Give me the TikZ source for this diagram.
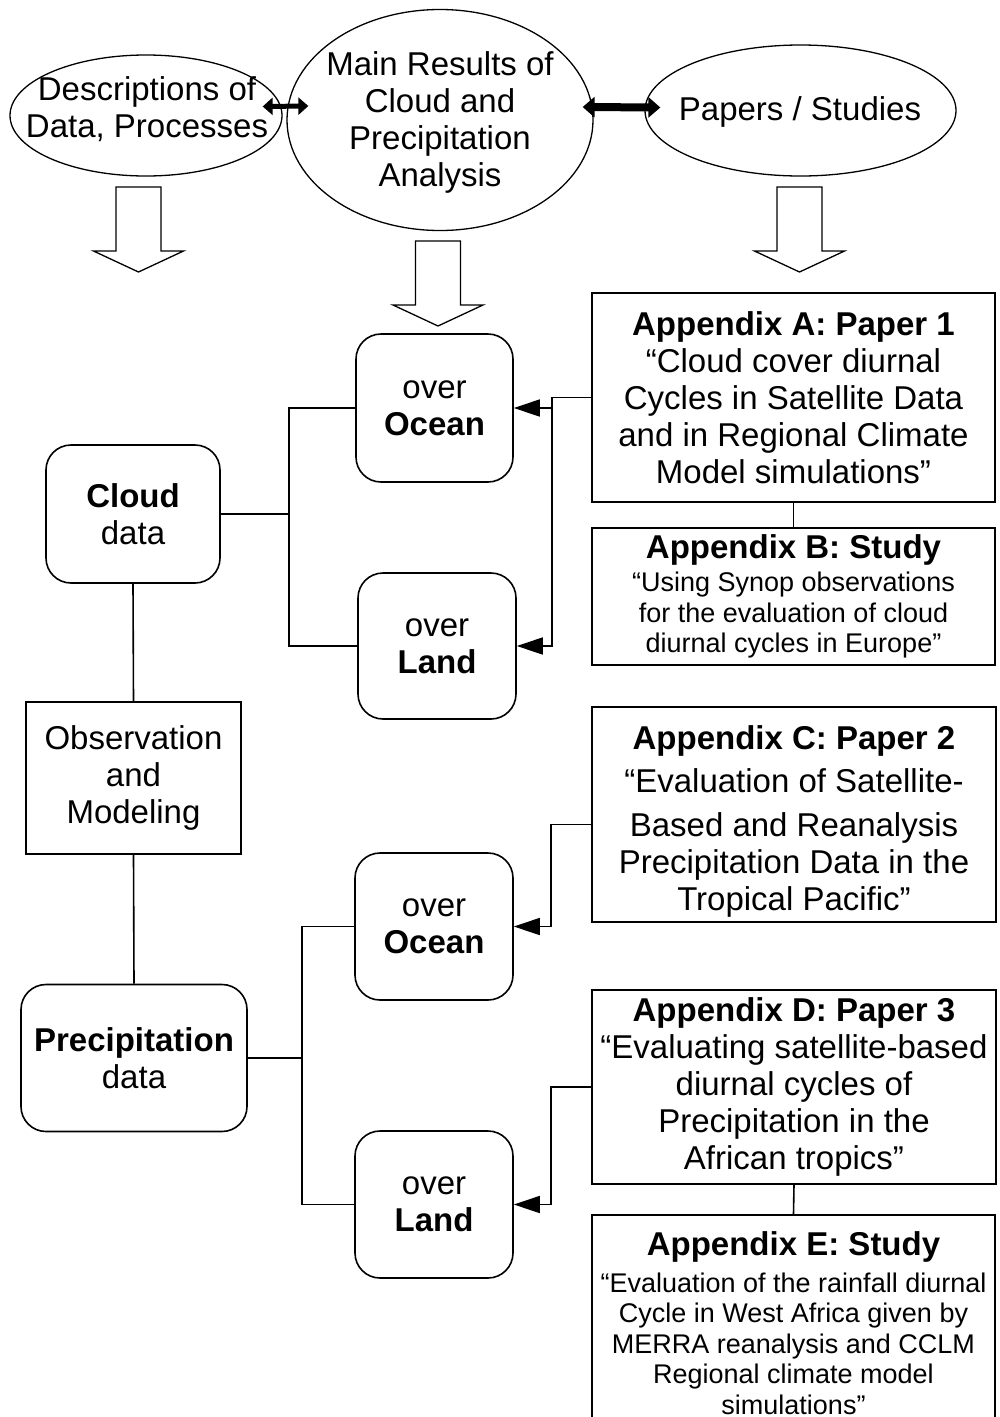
\documentclass[tikz,border=0pt]{standalone}
\usepackage{fontspec}
\setmainfont{Liberation Sans}
\usetikzlibrary{shapes.geometric,arrows.meta}

\newcommand{\bigfont}{\fontsize{33}{37}\selectfont}
\newcommand{\smallfont}{\fontsize{27}{30.5}\selectfont}

\tikzset{
  oval/.style={ellipse, draw, line width=1.3pt, inner sep=0pt},
  roundbox/.style={draw, rounded corners=25pt, line width=1.6pt, font=\bigfont, align=center, inner sep=2pt},
  plainbox/.style={draw, line width=1.6pt, font=\bigfont, align=center, inner sep=2pt},
  link/.style={line width=1.6pt},
  tolink/.style={line width=1.6pt, -{Triangle[length=26pt,width=17pt]}},
  hollow/.style={draw, fill=white, line width=1.3pt, line join=miter},
}

\begin{document}
\begin{tikzpicture}[x=1pt,y=-1pt]
    \useasboundingbox (0,0) rectangle (1000,1417);

    % top row
    \node[oval, minimum width=272pt, minimum height=121pt] (descr) at (146,115.5) {};
    \node[font=\bigfont, align=center] (descrtext) at (147,109) {Descriptions of\\Data, Processes};
    \node[oval, minimum width=306pt, minimum height=221pt] (mainres) at (440,120) {};
    \node[font=\bigfont, align=center] (mainrestext) at (440,122) {Main Results of\\Cloud and\\Precipitation\\Analysis};
    \node[oval, minimum width=311pt, minimum height=131pt] (papers) at (800.5,110.5) {};
    \node[font=\bigfont] (paperstext) at (800,112) {Papers / Studies};

    \draw[line width=5pt, {Triangle[length=10pt,width=17pt]}-{Triangle[length=10pt,width=17pt]}]
        ([shift={(-20pt,9pt)}]descr.east) -- ([shift={(22pt,14pt)}]mainres.west);
    \draw[line width=8pt, {Triangle[length=12pt,width=20pt]}-{Triangle[length=12pt,width=20pt]}]
        ([shift={(-11pt,13pt)}]mainres.east) -- ([shift={(16pt,3pt)}]papers.west);

    \foreach \cx/\ty in {138.5/187, 438/241, 799.5/187}
        \draw[hollow] (\cx-22.5,\ty) -- (\cx+22.5,\ty) -- (\cx+22.5,\ty+64) -- (\cx+45,\ty+64)
            -- (\cx,\ty+85) -- (\cx-45,\ty+64) -- (\cx-22.5,\ty+64) -- cycle;

    % cloud part
    \node[roundbox, minimum width=174pt, minimum height=138pt] (clouddata) at (133,514) {\textbf{Cloud}\\data};
    \node[roundbox, minimum width=157pt, minimum height=148pt] (cocean) at (434.5,408) {over\\\textbf{Ocean}};
    \node[roundbox, minimum width=158pt, minimum height=146pt] (cland) at (437,646) {over\\\textbf{Land}};
    \node[plainbox, minimum width=215pt, minimum height=152pt] (obs) at (133.5,778) {Observation\\and\\Modeling};

    % precipitation part
    \node[roundbox, minimum width=226pt, minimum height=147pt] (precdata) at (134,1058) {\textbf{Precipitation}\\data};
    \node[roundbox, minimum width=158pt, minimum height=147pt] (pocean) at (434,926.5) {over\\\textbf{Ocean}};
    \node[roundbox, minimum width=158pt, minimum height=147pt] (pland) at (434,1204.5) {over\\\textbf{Land}};

    % appendices
    \node[plainbox, minimum width=403pt, minimum height=209pt] (appA) at (793.5,397.5)
        {\textbf{Appendix A: Paper 1}\\“Cloud cover diurnal\\Cycles in Satellite Data\\and in Regional Climate\\Model simulations”};
    \node[plainbox, font=\smallfont, minimum width=403pt, minimum height=137pt] (appB) at (793.5,596.5)
        {\bigfont\bfseries Appendix B: Study\\[3pt]“Using Synop observations\\for the evaluation of cloud\\diurnal cycles in Europe”};
    \node[plainbox, minimum width=404pt, minimum height=215pt] (appC) at (794,814.5)
        {\rule{0pt}{37pt}\textbf{Appendix C: Paper 2}\\[6pt]“Evaluation of Satellite-\\[7pt]Based and Reanalysis\\Precipitation Data in the\\Tropical Pacific”};
    \node[plainbox, minimum width=404pt, minimum height=194pt] (appD) at (794,1087)
        {\textbf{Appendix D: Paper 3}\\“Evaluating satellite-based\\diurnal cycles of\\Precipitation in the\\African tropics”};
    \node[plainbox, font=\smallfont, minimum width=403pt, minimum height=216pt] (appE) at (793.5,1323)
        {\bigfont\bfseries Appendix E: Study\\[6pt]“Evaluation of the rainfall diurnal\\Cycle in West Africa given by\\MERRA reanalysis and CCLM\\Regional climate model\\simulations”};

    \draw[link] (clouddata.east) -- ++(68,0) |- (cocean.west);
    \draw[link] (clouddata.east) -- ++(68,0) |- (cland.west);
    \draw[link] (clouddata.south) -- (obs.north);
    \draw[link] (obs.south) -- (precdata.north);
    \draw[link] (precdata.east) -- ++(54,0) |- (pocean.west);
    \draw[link] (precdata.east) -- ++(54,0) |- (pland.west);

    \draw[tolink] (appA.west) -- ++(-39,0) |- (cocean.east);
    \draw[tolink] (appA.west) -- ++(-39,0) |- (cland.east);
    \draw[link] (appA.south) -- (appB.north);
    \draw[tolink] ([yshift=-10pt]appC.west) -- ++(-40,0) |- (pocean.east);
    \draw[tolink] (appD.west) -- ++(-40,0) |- (pland.east);
    \draw[link] (appD.south) -- (appE.north);

\end{tikzpicture}
\end{document}
